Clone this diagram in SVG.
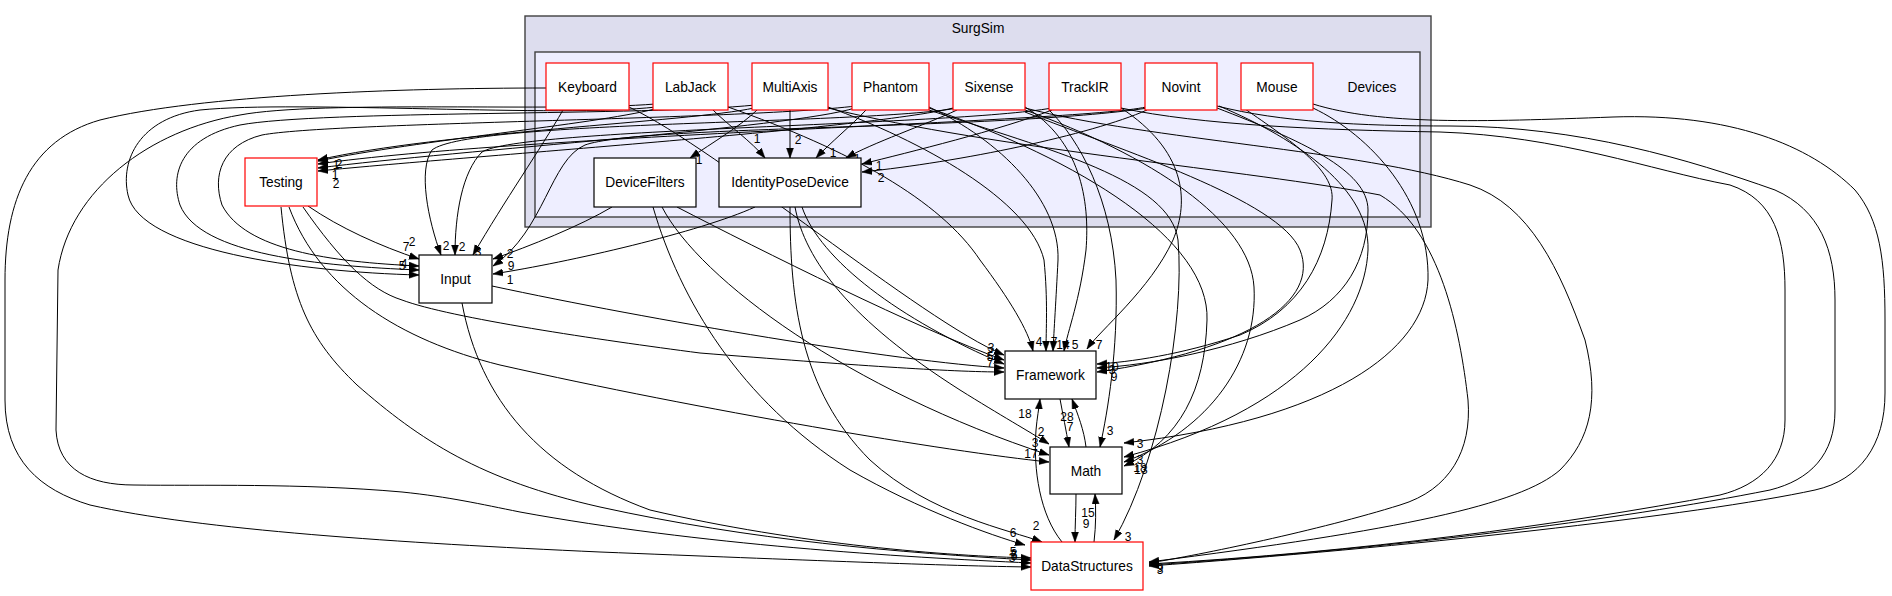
<svg xmlns="http://www.w3.org/2000/svg" width="1892" height="596" viewBox="0 0 1892 596">
<style>
.cl1{fill:#ddddee;stroke:#404040;stroke-width:1.4}
.cl2{fill:#eeeeff;stroke:#404040;stroke-width:1.4}
.nr{fill:#ffffff;stroke:#ff0000;stroke-width:1.2}
.nb{fill:#ffffff;stroke:#000000;stroke-width:1.2}
.t{font-family:"Liberation Sans",Arial,sans-serif;font-size:13.75px;fill:#000;text-anchor:middle}
.e{fill:none;stroke:#000;stroke-width:1;marker-end:url(#a)}
.l{font-family:"Liberation Sans",Arial,sans-serif;font-size:12px;fill:#000;text-anchor:middle}
</style>
<defs>
<marker id="a" markerWidth="10" markerHeight="8" refX="10" refY="4" orient="auto" markerUnits="userSpaceOnUse"><path d="M0,0.5 L10,4 L0,7.5 z" fill="#000" stroke="#000" stroke-width="0.5"/></marker>
</defs>
<rect width="1892" height="596" fill="#ffffff"/>
<g id="cluster_SurgSim">
<rect class="cl1" x="525" y="16" width="906" height="211"/>
<text class="t" x="978" y="33">SurgSim</text>
</g>
<g id="cluster_Devices">
<rect class="cl2" x="535" y="52" width="885" height="165"/>
<text class="t" x="1372" y="92">Devices</text>
</g>
<g id="edges">
<!-- intra-cluster -->
<path class="e" d="M757,110 C742,125 712,143 690,158"/><text class="l" x="699" y="164">1</text>
<path class="e" d="M713,110 C728,125 752,142 765,158"/><text class="l" x="757" y="143">1</text>
<path class="e" d="M790,110 L790,158"/><text class="l" x="798" y="144">2</text>
<path class="e" d="M866,110 C852,125 830,143 816,158"/><text class="l" x="833" y="157">1</text>
<path class="e" d="M957,110 C925,125 872,143 846,158"/><text class="l" x="857" y="163">1</text>
<path class="e" d="M1052,110 C1000,130 910,152 862,164"/><text class="l" x="879" y="170">1</text>
<path class="e" d="M1147,110 C1090,135 960,162 862,172"/><text class="l" x="881" y="182">2</text>
<!-- to Testing -->
<path class="e" d="M655,109 C590,125 420,140 318,161"/><text class="l" x="336" y="169">1</text>
<path class="e" d="M754,108 C690,122 440,132 318,160"/><text class="l" x="339" y="168">2</text>
<path class="e" d="M855,108 C790,128 460,150 318,168"/><text class="l" x="335" y="179">1</text>
<path class="e" d="M957,107 C880,128 480,155 318,171"/><text class="l" x="336" y="188">2</text>
<path class="e" d="M1146,107 C1080,122 520,135 318,164"/>
<!-- to Input -->
<path class="e" d="M308,206 C340,228 380,246 419,259"/><text class="l" x="412" y="246">2</text><text class="l" x="406" y="251">7</text>
<path class="e" d="M563,110 C540,150 505,200 473,255"/><text class="l" x="478" y="256">3</text>
<path class="e" d="M656,107 C560,118 300,100 200,110 C140,118 120,160 128,195 C140,250 300,272 419,275"/><text class="l" x="402" y="270">5</text>
<path class="e" d="M755,105 C650,116 320,110 240,125 C180,138 170,175 180,205 C200,255 320,266 419,270"/><text class="l" x="404" y="268">4</text>
<path class="e" d="M856,106 C740,120 330,122 262,135 C222,145 212,175 222,205 C245,250 330,262 419,266"/>
<path class="e" d="M958,108 C860,125 470,120 432,150 C418,170 428,220 441,255"/><text class="l" x="446" y="250">2</text>
<path class="e" d="M1052,108 C950,126 520,128 482,152 C462,172 455,215 455,255"/><text class="l" x="462" y="251">2</text>
<path class="e" d="M612,207 C580,226 530,246 493,259"/><text class="l" x="510" y="258">2</text>
<path class="e" d="M1148,108 C1000,130 640,125 585,145 C550,160 545,230 493,266"/><text class="l" x="511" y="270">9</text>
<path class="e" d="M755,207 C700,232 570,262 493,274"/><text class="l" x="510" y="284">1</text>
<!-- to Framework left -->
<path class="e" d="M629,107 C720,150 920,320 1004,355"/><text class="l" x="991" y="352">3</text>
<path class="e" d="M677,207 C760,250 920,330 1004,360"/><text class="l" x="990" y="356">2</text>
<path class="e" d="M802,207 C820,260 900,320 1004,364"/><text class="l" x="990" y="361">5</text>
<path class="e" d="M492,286 C650,320 900,362 1004,368"/><text class="l" x="990" y="367">7</text>
<path class="e" d="M303,207 C340,260 370,290 402,300 C450,318 600,340 700,353 C850,365 950,372 1004,372"/>
<!-- to Framework top -->
<path class="e" d="M728,107 C850,150 940,200 980,260 C1010,300 1028,330 1033,351"/><text class="l" x="1039" y="346">4</text>
<path class="e" d="M828,107 C920,140 1030,200 1044,260 C1048,300 1046,330 1046,351"/><text class="l" x="1054" y="346">7</text>
<path class="e" d="M929,107 C1000,140 1060,200 1058,260 C1056,300 1054,330 1053,351"/><text class="l" x="1063" y="349">14</text>
<path class="e" d="M1025,107 C1080,140 1090,200 1086,250 C1080,300 1068,330 1064,351"/><text class="l" x="1075" y="349">5</text>
<path class="e" d="M1121,108 C1185,150 1190,200 1173,240 C1150,290 1100,330 1087,349"/><text class="l" x="1099" y="349">7</text>
<!-- to Framework right -->
<path class="e" d="M1245,109 C1290,140 1335,170 1332,200 C1328,260 1300,310 1240,335 C1180,355 1130,362 1097,364"/><text class="l" x="1112" y="371">10</text>
<path class="e" d="M1217,108 C1300,140 1368,170 1368,210 C1368,260 1345,300 1300,320 C1230,350 1150,365 1097,368"/><text class="l" x="1112" y="374">3</text>
<path class="e" d="M1025,112 C1120,150 1280,200 1300,250 C1320,300 1250,350 1097,372"/><text class="l" x="1114" y="381">9</text>
<!-- Framework / Math / DataStructures -->
<path class="e" d="M1060,399 C1063,415 1066,430 1069,447"/><text class="l" x="1070" y="431">7</text>
<path class="e" d="M1086,447 C1084,430 1078,415 1072,399"/><text class="l" x="1067" y="421">28</text>
<path class="e" d="M1076,494 C1076,510 1075,525 1075,542"/><text class="l" x="1086" y="528">9</text>
<path class="e" d="M1094,542 C1096,525 1096,510 1095,494"/><text class="l" x="1088" y="517">15</text>
<path class="e" d="M1062,542 C1040,515 1033,470 1036,430 C1037,418 1039,408 1040,399"/><text class="l" x="1025" y="418">18</text>
<!-- to Math -->
<path class="e" d="M795,207 C805,260 850,320 960,390 C1000,415 1030,432 1049,444"/><text class="l" x="1041" y="436">2</text>
<path class="e" d="M662,207 C700,280 850,390 1049,455"/><text class="l" x="1035" y="447">3</text>
<path class="e" d="M289,207 C320,290 400,340 500,365 C700,410 950,452 1049,462"/><text class="l" x="1031" y="458">17</text>
<path class="e" d="M1049,110 C1080,140 1112,200 1116,280 C1118,350 1108,410 1100,447"/><text class="l" x="1110" y="435">3</text>
<path class="e" d="M1313,108 C1370,135 1430,200 1428,280 C1425,350 1330,420 1124,443"/><text class="l" x="1140" y="448">3</text>
<path class="e" d="M1219,106 C1300,140 1370,190 1368,250 C1365,320 1300,410 1124,457"/><text class="l" x="1140" y="464">3</text>
<path class="e" d="M1025,110 C1150,155 1250,220 1254,287 C1258,360 1210,430 1124,462"/><text class="l" x="1140" y="472">18</text>
<path class="e" d="M929,108 C1080,160 1210,240 1207,320 C1205,390 1180,440 1124,466"/><text class="l" x="1141" y="474">13</text>
<!-- to DataStructures -->
<path class="e" d="M653,207 C680,300 740,400 850,470 C920,510 990,535 1025,545"/><text class="l" x="1013" y="537">6</text>
<path class="e" d="M790,207 C790,300 800,390 870,460 C930,515 1010,530 1042,542"/><text class="l" x="1036" y="530">2</text>
<path class="e" d="M281,207 C290,300 310,340 357,385 C420,440 480,480 600,507 C750,540 900,553 1031,560"/><text class="l" x="1013" y="556">5</text>
<path class="e" d="M462,303 C480,400 540,470 650,510 C800,545 950,556 1031,558"/><text class="l" x="1014" y="558">3</text>
<path class="e" d="M546,88 C400,88 200,95 100,120 C30,140 5,200 5,280 L5,400 C5,460 40,490 90,505 C200,530 400,543 600,552 C800,560 950,566 1031,567"/><text class="l" x="1012" y="562">3</text>
<path class="e" d="M655,104 C560,112 320,100 240,115 C150,130 70,190 58,270 L56,430 C58,470 90,485 134,485 C200,486 300,483 402,492 C450,497 480,504 520,512 C700,545 900,557 1031,563"/><text class="l" x="1014" y="560">5</text>
<path class="e" d="M929,110 C1050,150 1170,180 1178,240 C1185,320 1160,460 1114,540"/><text class="l" x="1128" y="541">3</text>
<path class="e" d="M1313,104 C1380,125 1480,122 1613,117 C1730,113 1810,145 1855,190 C1880,220 1885,260 1885,320 L1885,393 C1885,445 1860,480 1815,490 C1700,515 1400,548 1149,566"/>
<path class="e" d="M1217,106 C1280,122 1360,126 1450,126 C1580,126 1690,160 1775,190 C1820,210 1835,250 1835,300 L1835,410 C1835,455 1810,480 1770,490 C1620,520 1380,550 1149,565"/>
<path class="e" d="M1121,108 C1200,125 1320,130 1440,132 C1560,136 1650,170 1730,185 C1775,200 1785,240 1785,290 L1785,420 C1785,460 1760,485 1720,495 C1560,525 1360,552 1149,564"/>
<path class="e" d="M1025,108 C1150,140 1360,150 1470,185 C1530,205 1560,270 1585,340 C1600,400 1590,440 1560,470 C1520,505 1400,530 1149,562"/>
<path class="e" d="M828,108 C1000,150 1250,170 1380,195 C1440,230 1460,330 1468,400 C1472,450 1450,490 1400,505 C1320,530 1200,555 1149,563"/><text class="l" x="1160" y="572">9</text><text class="l" x="1160" y="574">3</text>
</g>
<g id="node_Keyboard"><rect class="nr" x="546" y="63" width="83" height="47"/><text class="t" x="587.5" y="91.5">Keyboard</text></g>
<g id="node_LabJack"><rect class="nr" x="653" y="63" width="75" height="47"/><text class="t" x="690.5" y="91.5">LabJack</text></g>
<g id="node_MultiAxis"><rect class="nr" x="752" y="63" width="76" height="47"/><text class="t" x="790" y="91.5">MultiAxis</text></g>
<g id="node_Phantom"><rect class="nr" x="852" y="63" width="77" height="47"/><text class="t" x="890.5" y="91.5">Phantom</text></g>
<g id="node_Sixense"><rect class="nr" x="953" y="63" width="72" height="47"/><text class="t" x="989" y="91.5">Sixense</text></g>
<g id="node_TrackIR"><rect class="nr" x="1049" y="63" width="72" height="47"/><text class="t" x="1085" y="91.5">TrackIR</text></g>
<g id="node_Novint"><rect class="nr" x="1145" y="63" width="72" height="47"/><text class="t" x="1181" y="91.5">Novint</text></g>
<g id="node_Mouse"><rect class="nr" x="1241" y="63" width="72" height="47"/><text class="t" x="1277" y="91.5">Mouse</text></g>
<g id="node_DeviceFilters"><rect class="nb" x="594" y="158" width="102" height="49"/><text class="t" x="645" y="187">DeviceFilters</text></g>
<g id="node_IdentityPoseDevice"><rect class="nb" x="719" y="158" width="142" height="49"/><text class="t" x="790" y="187">IdentityPoseDevice</text></g>
<g id="node_Testing"><rect class="nr" x="245" y="158" width="72" height="48"/><text class="t" x="281" y="187">Testing</text></g>
<g id="node_Input"><rect class="nb" x="419" y="255" width="73" height="48"/><text class="t" x="455.5" y="284">Input</text></g>
<g id="node_Framework"><rect class="nb" x="1005" y="351" width="91" height="48"/><text class="t" x="1050.5" y="380">Framework</text></g>
<g id="node_Math"><rect class="nb" x="1050" y="447" width="72" height="47"/><text class="t" x="1086" y="475.5">Math</text></g>
<g id="node_DataStructures"><rect class="nr" x="1031" y="542" width="112" height="48"/><text class="t" x="1087" y="571">DataStructures</text></g>
</svg>
